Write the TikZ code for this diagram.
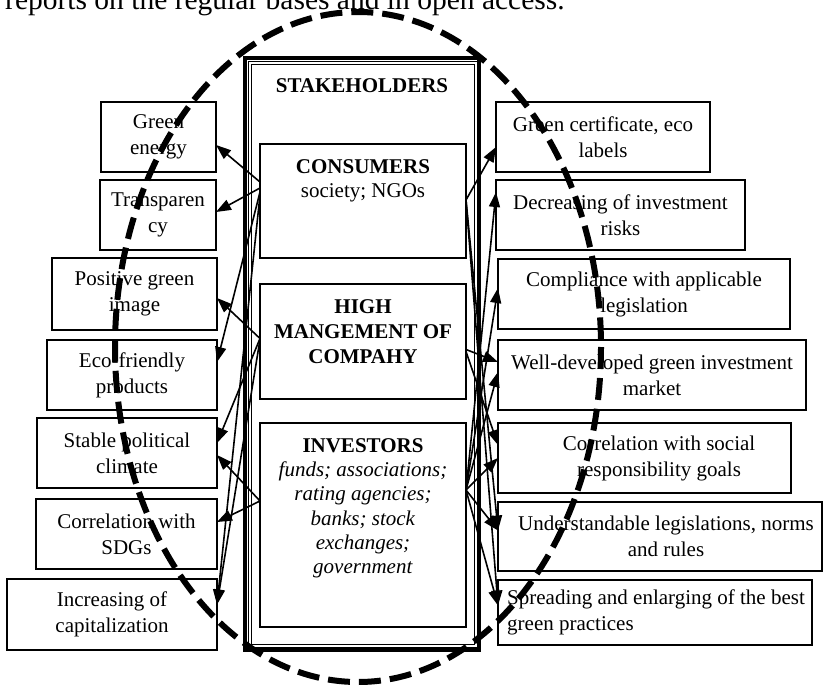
\documentclass[tikz,border=0pt]{standalone}
\usepackage{fontspec}
\setmainfont{Liberation Serif}
\usetikzlibrary{arrows.meta,calc}
\tikzset{
  sbox/.style={draw, line width=2pt, inner sep=0pt, outer sep=0pt, align=center, font=\fontsize{21}{26}\selectfont},
  cbox/.style={draw, line width=2pt, inner sep=0pt, outer sep=0pt},
  txt/.style={inner sep=0pt, align=center, font=\fontsize{21}{26}\selectfont},
  arr/.style={line width=1.6pt, -{Triangle[length=15pt,width=11pt]}},
  oval/.style={line width=6pt, dash pattern=on 22pt off 9pt},
}
\begin{document}
\begin{tikzpicture}[x=1pt,y=-1pt]
\useasboundingbox (0,0) rectangle (840,690);
\node[anchor=base west, inner sep=0pt, font=\fontsize{29.5}{34}\selectfont] (topline) at (5,10) {reports on the regular bases and in open access.};

% central frame
\node[draw, line width=4pt, minimum width=234, minimum height=592, inner sep=0pt, outer sep=0pt] (frame) at (362,354) {};
\node[draw, double, double distance=1.6pt, line width=0.8pt, minimum width=226, minimum height=583, inner sep=0pt, outer sep=0pt] (innerframe) at (363,354.5) {};
\node[txt, anchor=north, font=\fontsize{21}{26}\selectfont\bfseries] (stk) at (362,78) {STAKEHOLDERS};

\node[cbox, minimum width=206, minimum height=114] (cons) at (363,201) {};
\node[txt, anchor=north, font=\fontsize{21}{24}\selectfont] (consT) at (363,159) {\textbf{CONSUMERS}\\society; NGOs};

\node[cbox, minimum width=206, minimum height=115] (high) at (363,341.5) {};
\node[txt, anchor=north, font=\fontsize{21}{25}\selectfont\bfseries] (highT) at (363,299) {HIGH\\MANGEMENT OF\\COMPAHY};

\node[cbox, minimum width=206, minimum height=204] (inv) at (363,525) {};
\node[txt, anchor=north, font=\fontsize{21}{24.3}\selectfont] (invT) at (363,438) {\textbf{INVESTORS}\\\textit{funds; associations;}\\\textit{rating agencies;}\\\textit{banks; stock}\\\textit{exchanges;}\\\textit{government}};

% left boxes
\node[sbox, minimum width=115, minimum height=70] (ge) at (158.5,137) {Green\\energy};
\node[sbox, minimum width=116, minimum height=70] (tr) at (158,215) {Transparen\\cy};
\node[sbox, minimum width=165, minimum height=72] (pg) at (134.5,294) {Positive green\\image};
\node[sbox, minimum width=170, minimum height=70] (ef) at (132,375) {Eco-friendly\\products};
\node[sbox, minimum width=180, minimum height=70] (sp) at (127,453) {Stable political\\climate};
\node[sbox, minimum width=181, minimum height=70] (sd) at (126.5,534) {Correlation with\\SDGs};
\node[sbox, minimum width=210, minimum height=71] (ic) at (112,614.5) {Increasing of\\capitalization};

% right boxes
\node[sbox, minimum width=214, minimum height=70] (gc) at (603,137) {Green certificate, eco\\labels};
\node[sbox, minimum width=249, minimum height=70] (dr) at (620.5,215) {Decreasing of investment\\risks};
\node[sbox, minimum width=292, minimum height=70] (ca) at (644,294) {Compliance with applicable\\legislation};
\node[sbox, minimum width=308, minimum height=70] (wd) at (652,375) {Well-developed green investment\\market};
\node[sbox, minimum width=293, minimum height=70] (cs) at (644.5,458) {};
\node[txt] (csT) at (659,458) {Correlation with social\\responsibility goals};
\node[sbox, minimum width=324, minimum height=69] (ul) at (660,536.5) {};
\node[txt] (ulT) at (666,536.5) {Understandable legislations, norms\\and rules};
\node[sbox, minimum width=314, minimum height=65] (sg) at (655,612.5) {};
\node[txt, align=left, anchor=west] (sgT) at (507,612.5) {Spreading and enlarging of the best\\green practices};

% left connectors
\draw[arr] ($(cons.west)+(0,-19)$) -- ($(ge.east)+(0,8)$);
\draw[arr] ($(cons.west)+(0,-13)$) -- ($(tr.east)+(0,-3)$);
\draw[arr] ($(cons.west)+(0,-9)$) -- ($(ef.east)+(0,-13)$);
\draw[arr] ($(cons.west)+(0,-6)$) -- ($(ic.east)+(0,-10)$);
\draw[arr] ($(high.west)+(0,-3)$) -- ($(pg.east)+(0,4)$);
\draw[arr] ($(high.west)+(0,-3)$) -- ($(sp.east)+(0,-10)$);
\draw[arr] ($(high.west)+(0,-2)$) -- ($(ic.east)+(0,-10)$);
\draw[arr] ($(inv.west)+(0,-24)$) -- ($(sp.east)+(0,2)$);
\draw[arr] ($(inv.west)+(0,-24)$) -- ($(sd.east)+(0,-12)$);

% right connectors
\draw[arr] ($(cons.east)+(0,-1)$) -- ($(gc.west)+(0,10)$);
\draw[arr] ($(cons.east)+(0,-1)$) -- ($(sg.west)+(0,-7)$);
\draw[arr] ($(cons.east)+(0,-1)$) -- ($(ul.west)+(0,-6)$);
\draw[arr] ($(high.east)+(0,8)$) -- ($(wd.west)+(0,-13)$);
\draw[arr] ($(high.east)+(0,10)$) -- ($(cs.west)+(0,-13)$);
\draw[arr] ($(inv.east)+(0,-35)$) -- ($(dr.west)+(0,-23)$);
\draw[arr] ($(inv.east)+(0,-35)$) -- ($(ca.west)+(0,-6)$);
\draw[arr] ($(inv.east)+(0,-35)$) -- ($(wd.west)+(0,-3)$);
\draw[arr] ($(inv.east)+(0,-35)$) -- ($(cs.west)+(0,0)$);
\draw[arr] ($(inv.east)+(0,-35)$) -- ($(ul.west)+(0,-6)$);
\draw[arr] ($(inv.east)+(0,-35)$) -- ($(sg.west)+(0,-7)$);

% dashed oval
\draw[oval] (358,347) ellipse [x radius=243, y radius=335];
\end{tikzpicture}
\end{document}
